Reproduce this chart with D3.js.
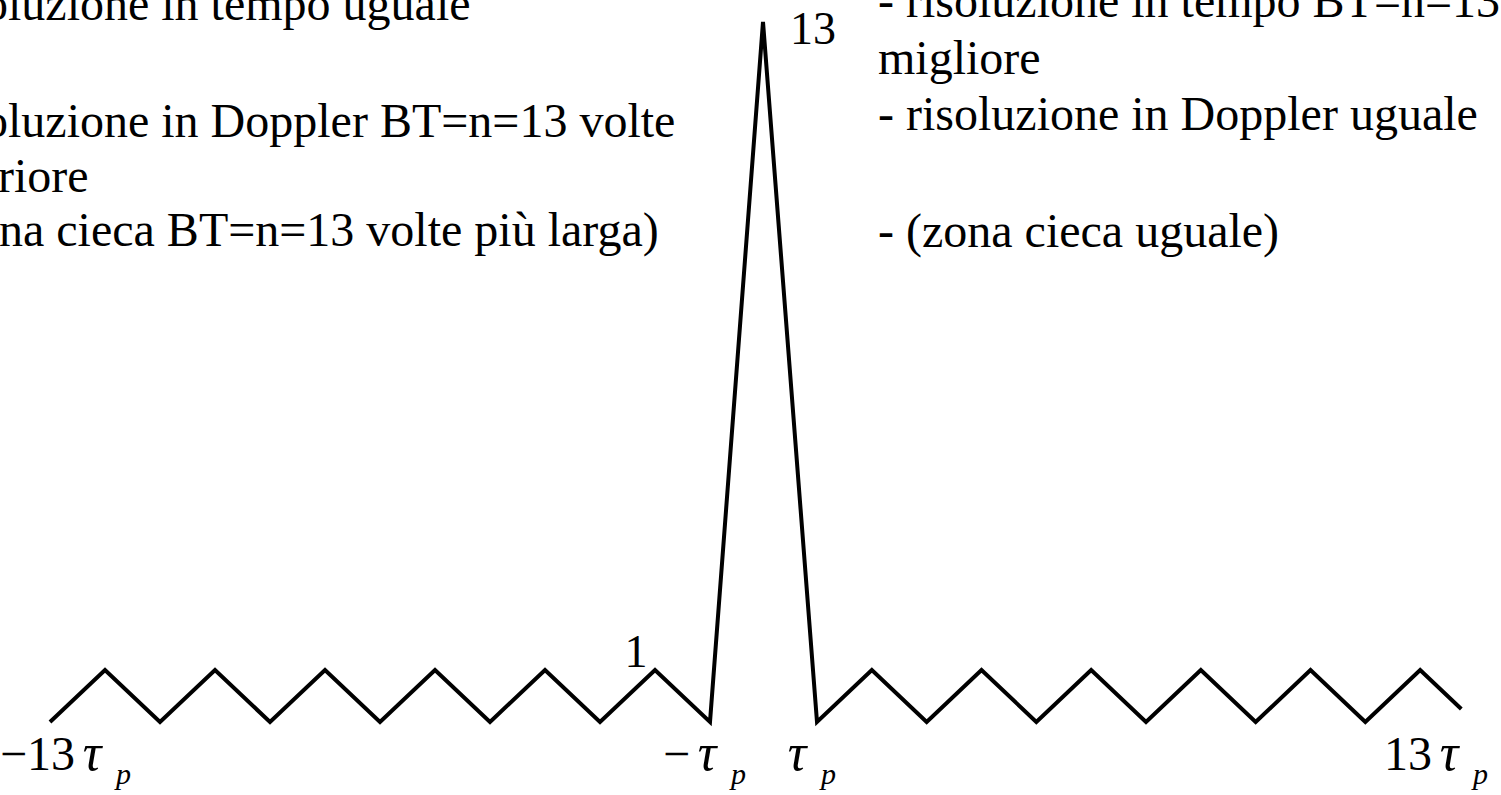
<!DOCTYPE html>
<html>
<head>
<meta charset="utf-8">
<script src="https://cdn.jsdelivr.net/npm/d3@7"></script>
<style>
  html, body { margin: 0; padding: 0; background: #fff; overflow: hidden; }
  svg { display: block; }
  text { font-family: "Liberation Serif", "Times New Roman", serif; fill: #000; }
</style>
</head>
<body>
<script>
//------------------------------------------------------------------------------
// dati: autocorrelazione del codice di Barker a 13 elementi (ritardo in unità di tau_p)
const lags = [-13, -12, -11, -10, -9, -8, -7, -6, -5, -4, -3, -2, -1,
    0,
    1, 2, 3, 4, 5, 6, 7, 8, 9, 10, 11, 12, 12.75]
const values = [0, 1, 0, 1, 0, 1, 0, 1, 0, 1, 0, 1, 0,
    13,
    0, 1, 0, 1, 0, 1, 0, 1, 0, 1, 0, 1, 0.25]

// etichette asse x
const tickValues = [-13, -1, 1, 13]
const tickPrefix = ["\u221213", "\u2212", "", "13"]

// etichette dei picchi
const peakLags = [0, -2]
const peakLabels = ["13", "1"]

// note (testo tagliato ai bordi come nell'originale)
const leftNotes = [
    "oluzione in tempo uguale",
    "oluzione in Doppler BT=n=13 volte",
    "riore",
    "na cieca BT=n=13 volte più larga)"
]
const rightNotes = [
    "- risoluzione in tempo BT=n=13",
    "migliore",
    "- risoluzione in Doppler uguale",
    "- (zona cieca uguale)"
]

//------------------------------------------------------------------------------

const width = 1501
const height = 795

const svg = d3.select("body")
    .append("svg")
    .attr("width", width)
    .attr("height", height)

svg.append("rect")
    .attr("width", width)
    .attr("height", height)
    .style("fill", "#ffffff")

// scale a tratti: il disegno originale ha il lobo centrale più stretto e più alto
const x = d3.scaleLinear()
    .domain([-13, -1, 0, 1, 13])
    .range([50, 710, 763, 817, 1475])

const y = d3.scaleLinear()
    .domain([0, 1, 13])
    .range([722, 670, 22])

//------------------------------------------------------------------------------

const line = d3.line()
    .x((d, i) => x(lags[i]))
    .y(d => y(d))

svg.append("path")
    .datum(values)
    .attr("d", line)
    .attr("fill", "none")
    .attr("stroke", "#000")
    .attr("stroke-width", 4)
    .attr("stroke-linejoin", "miter")

//------------------------------------------------------------------------------

// etichette dei picchi (13 e 1)
const peakOffset = [{ dx: 27, dy: 22, anchor: "start" }, { dx: -19, dy: -3, anchor: "middle" }]
svg.selectAll(".peak")
    .data(peakLags)
    .enter()
    .append("text")
    .attr("class", "peak")
    .attr("x", (d, i) => x(d) + peakOffset[i].dx)
    .attr("y", (d, i) => y(values[lags.indexOf(d)]) + peakOffset[i].dy)
    .attr("text-anchor", (d, i) => peakOffset[i].anchor)
    .style("font-size", "46px")
    .text((d, i) => peakLabels[i])

//------------------------------------------------------------------------------

// etichette asse x: prefisso + tau (corsivo) + p a pedice
const tauShift = { "-13": 42, "-1": -3, "1": -20, "13": -26 }
const tickBase = 770

const ticks = svg.selectAll(".tick-label")
    .data(tickValues)
    .enter()
    .append("g")
    .attr("class", "tick-label")
    .attr("transform", d => "translate(" + (x(d) + tauShift[d]) + "," + tickBase + ")")

ticks.append("text")
    .attr("x", -17)
    .attr("text-anchor", "end")
    .style("font-size", "48px")
    .text((d, i) => tickPrefix[i])

ticks.append("text")
    .attr("x", 0)
    .attr("text-anchor", "middle")
    .style("font-size", "52px")
    .style("font-style", "italic")
    .text("\u03C4")

ticks.append("text")
    .attr("x", 24)
    .attr("y", 14)
    .attr("text-anchor", "start")
    .style("font-size", "30px")
    .style("font-style", "italic")
    .text("p")

//------------------------------------------------------------------------------

// note a sinistra e a destra
const leftX = [-16, -16, -2, -1]
const leftY = [20, 137, 192, 246]
svg.selectAll(".note-left")
    .data(leftNotes)
    .enter()
    .append("text")
    .attr("class", "note-left")
    .attr("x", (d, i) => leftX[i])
    .attr("y", (d, i) => leftY[i])
    .style("font-size", "48px")
    .text(d => d)

const rightY = [17, 74, 130, 247]
svg.selectAll(".note-right")
    .data(rightNotes)
    .enter()
    .append("text")
    .attr("class", "note-right")
    .attr("x", 878)
    .attr("y", (d, i) => rightY[i])
    .style("font-size", "48px")
    .text(d => d)
</script>
</body>
</html>
